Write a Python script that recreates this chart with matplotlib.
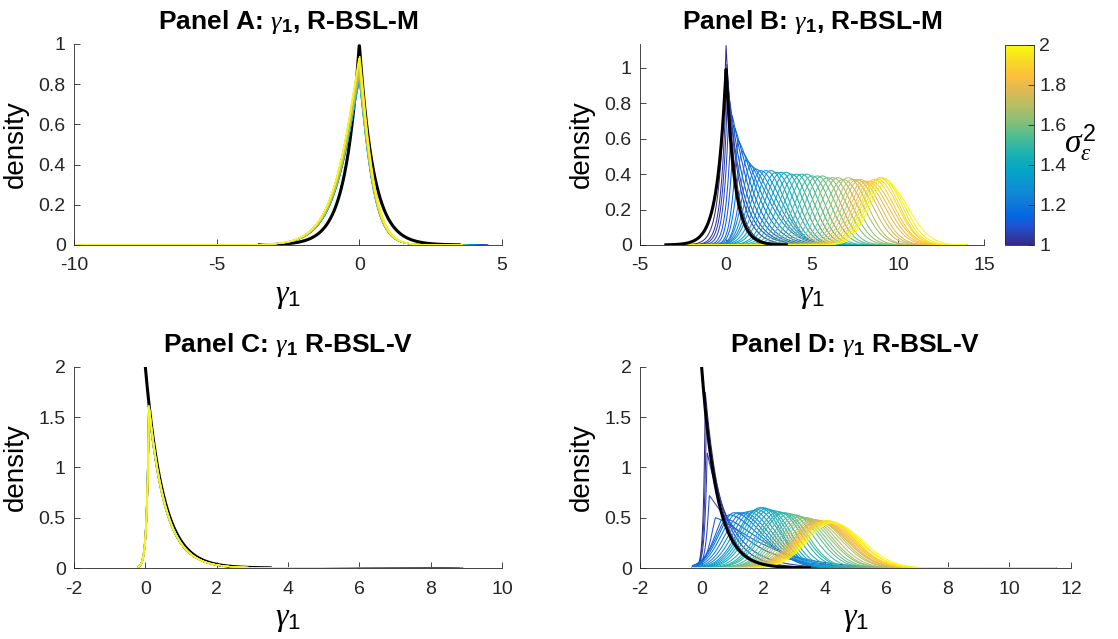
import numpy as np
import matplotlib
matplotlib.use('Agg')
import matplotlib.pyplot as plt
from matplotlib.colors import LinearSegmentedColormap, Normalize
from matplotlib.cm import ScalarMappable
from matplotlib.ticker import FuncFormatter
from math import gamma as gamma_fn

plt.rcParams['font.family'] = 'Liberation Sans'
plt.rcParams['mathtext.fontset'] = 'custom'
plt.rcParams['mathtext.rm'] = 'Liberation Sans'
plt.rcParams['mathtext.it'] = 'Liberation Serif:italic'
plt.rcParams['mathtext.bf'] = 'Liberation Sans:bold'

# noise variance of each run (colour scale)
sigma2 = np.round(np.arange(1.0, 2.0001, 0.025), 3)

# prior densities (black): Laplace for R-BSL-M, exponential for R-BSL-V
prior_scale_m = 0.5
prior_rate_v = 2.0
prior_cut = 3.5

# Panel A: posterior peak location / height per run (shape shared)
a_peak = [0.0, -0.01, 0.0, 0.01, -0.02, 0.0, 0.01, -0.01, 0.0, 0.02, -0.01,
          0.0, 0.01, -0.02, 0.0, 0.01, -0.01, 0.0, 0.02, 0.0, -0.01, 0.01,
          0.0, -0.02, 0.01, 0.0, -0.01, 0.02, 0.0, 0.01, -0.01, 0.0, 0.01,
          -0.02, 0.0, 0.01, -0.01, 0.0, 0.02, 0.0, -0.01]
a_height = [0.90, 0.91, 0.89, 0.88, 0.90, 0.87, 0.86, 0.88, 0.85, 0.84, 0.86,
            0.83, 0.82, 0.84, 0.81, 0.83, 0.85, 0.82, 0.84, 0.86, 0.83, 0.85,
            0.87, 0.84, 0.86, 0.88, 0.85, 0.87, 0.89, 0.86, 0.88, 0.90, 0.92,
            0.89, 0.91, 0.93, 0.90, 0.92, 0.94, 0.91, 0.93]
a_end = [4.5, 4.5, 4.4, 4.4, 4.3, 4.3, 4.2, 4.2, 4.1, 4.1, 4.0, 4.0, 4.0, 3.9,
         3.9, 3.9, 3.8, 3.8, 3.8, 3.8, 3.7, 3.7, 3.7, 3.7, 3.7, 3.6, 3.6, 3.6,
         3.6, 3.6, 3.6, 3.6, 3.6, 3.6, 3.6, 3.6, 3.6, 3.6, 3.6, 3.6, 3.6]
a_shape = dict(sl=0.67, sr=0.40, p=1.2)

# Panel B
b_peak = [0.0, 0.05, 0.1, 0.2, 0.35, 0.5, 0.7, 0.9, 1.15, 1.4, 1.7, 2.0, 2.3,
          2.6, 2.9, 3.2, 3.5, 3.8, 4.1, 4.4, 4.7, 5.0, 5.3, 5.6, 5.9, 6.2,
          6.5, 6.8, 7.1, 7.35, 7.6, 7.8, 8.0, 8.2, 8.4, 8.6, 8.8, 8.95, 9.1,
          9.2, 9.3]
b_height = [1.13, 1.02, 0.92, 0.82, 0.73, 0.66, 0.59, 0.53, 0.48, 0.45, 0.43,
            0.42, 0.42, 0.42, 0.41, 0.41, 0.41, 0.40, 0.40, 0.40, 0.40, 0.39,
            0.39, 0.39, 0.38, 0.38, 0.38, 0.37, 0.38, 0.37, 0.37, 0.37, 0.36,
            0.36, 0.36, 0.37, 0.37, 0.38, 0.38, 0.37, 0.35]
b_left = [0.35, 0.30, 0.28, 0.27, 0.27, 0.28, 0.30, 0.35, 0.40, 0.50, 0.60,
          0.70, 0.80, 0.85, 0.90, 0.95, 0.95, 1.0, 1.0, 1.0, 1.0, 1.0, 1.0,
          1.0, 1.0, 1.0, 1.0, 1.0, 1.0, 1.0, 1.0, 1.0, 1.0, 1.0, 1.0, 1.0,
          1.0, 1.0, 1.0, 1.0, 1.0]
b_power = [1.0, 1.0, 1.0, 1.1, 1.2, 1.3, 1.4, 1.5, 1.6, 1.7, 1.8, 1.9] + [2.0] * 29

# Panel C
c_peak = [0.10, 0.11, 0.10, 0.09, 0.10, 0.11, 0.10, 0.09, 0.10, 0.11, 0.10,
          0.10, 0.09, 0.11, 0.10, 0.10, 0.11, 0.09, 0.10, 0.10, 0.11, 0.10,
          0.09, 0.10, 0.11, 0.10, 0.10, 0.09, 0.11, 0.10, 0.10, 0.11, 0.09,
          0.10, 0.10, 0.11, 0.10, 0.09, 0.10, 0.11, 0.10]
c_height = [1.60, 1.58, 1.61, 1.59, 1.60, 1.62, 1.58, 1.60, 1.59, 1.61, 1.60,
            1.58, 1.60, 1.61, 1.59, 1.60, 1.62, 1.58, 1.60, 1.59, 1.61, 1.60,
            1.58, 1.60, 1.61, 1.59, 1.60, 1.62, 1.58, 1.60, 1.59, 1.61, 1.60,
            1.58, 1.60, 1.61, 1.59, 1.60, 1.62, 1.60, 1.61]
c_end = [8.9, 8.8, 8.6, 8.4, 8.2, 8.0, 7.8, 7.6, 7.4, 7.2, 7.0, 6.9, 6.8, 6.7,
         6.6, 6.5, 6.4, 6.3, 6.2, 6.1, 6.0, 6.0, 5.9, 5.9, 5.8, 5.8, 5.7, 5.7,
         5.6, 5.6, 5.5, 5.5, 5.4, 5.4, 5.3, 5.3, 5.2, 5.2, 5.1, 5.1, 5.0]
c_shape = dict(sl=0.06, sr=0.48, p=1.0)

# Panel D
d_peak = [0.12, 0.15, 0.18, 0.25, 0.45, 0.7, 0.9, 1.05, 1.2, 1.35, 1.5, 1.65,
          1.8, 1.9, 2.0, 2.1, 2.2, 2.35, 2.5, 2.6, 2.7, 2.85, 3.0, 3.1, 3.2,
          3.3, 3.4, 3.5, 3.6, 3.7, 3.75, 3.8, 3.85, 3.9, 3.95, 4.0, 4.05,
          4.1, 4.15, 4.2, 4.25]
d_height = [1.75, 1.45, 1.15, 0.72, 0.50, 0.50, 0.53, 0.55, 0.55, 0.55, 0.56,
            0.57, 0.58, 0.60, 0.60, 0.59, 0.58, 0.57, 0.56, 0.55, 0.55, 0.54,
            0.53, 0.52, 0.51, 0.50, 0.50, 0.49, 0.48, 0.48, 0.47, 0.47, 0.47,
            0.46, 0.46, 0.46, 0.47, 0.47, 0.46, 0.46, 0.45]
d_left = [0.06, 0.07, 0.08, 0.10, 0.20, 0.35, 0.45, 0.50, 0.55, 0.58, 0.60,
          0.62, 0.64, 0.65, 0.66, 0.67, 0.68, 0.69, 0.70, 0.71, 0.72, 0.72,
          0.73, 0.74, 0.75, 0.75, 0.76, 0.77, 0.77, 0.78, 0.78, 0.79, 0.79,
          0.80, 0.80, 0.80, 0.80, 0.80, 0.80, 0.80, 0.80]
d_power = [1.0, 1.0, 1.0, 1.1, 1.3, 1.5, 1.7, 1.9] + [2.0] * 33

# parula colour map
parula = LinearSegmentedColormap.from_list('parula', [
    (0 / 63, (0.2081, 0.1663, 0.5292)),
    (6 / 63, (0.1253, 0.3242, 0.8303)),
    (9 / 63, (0.0060, 0.4086, 0.8828)),
    (14 / 63, (0.0723, 0.4887, 0.8467)),
    (19 / 63, (0.0488, 0.5772, 0.8228)),
    (24 / 63, (0.0228, 0.6535, 0.7768)),
    (29 / 63, (0.1133, 0.7015, 0.6859)),
    (34 / 63, (0.3022, 0.7376, 0.5712)),
    (39 / 63, (0.5300, 0.7491, 0.4661)),
    (44 / 63, (0.7184, 0.7411, 0.3905)),
    (49 / 63, (0.8824, 0.7274, 0.3217)),
    (53 / 63, (0.9938, 0.7455, 0.2403)),
    (58 / 63, (0.9697, 0.8481, 0.1475)),
    (63 / 63, (0.9763, 0.9831, 0.0538)),
])
norm = Normalize(1, 2)


def norm_const(p):
    return p ** (1 / p) * gamma_fn(1 + 1 / p)


def density(x, m, h, sl, sr, p):
    s = np.where(x < m, sl, sr)
    z = np.abs(x - m) / s
    return h * np.exp(-z ** p / p)


fmt = FuncFormatter(lambda v, _: f'{v:g}')
axis_col = '#262626'


def style(ax, xlim, xticks, ylim, yticks, title):
    ax.set_xlim(xlim)
    ax.set_ylim(ylim)
    ax.set_xticks(xticks)
    ax.set_yticks(yticks)
    ax.xaxis.set_major_formatter(fmt)
    ax.yaxis.set_major_formatter(fmt)
    for side in ['top', 'right']:
        ax.spines[side].set_visible(False)
    for side in ['left', 'bottom']:
        ax.spines[side].set_color(axis_col)
        ax.spines[side].set_linewidth(0.6)
    ax.tick_params(direction='in', length=4, width=0.6, colors=axis_col,
                   labelsize=14)
    ax.tick_params(axis='x', pad=9)
    ax.tick_params(axis='y', pad=6)
    ax.set_title(title, fontsize=19, fontweight='bold', pad=11)
    ax.set_xlabel(r'$\gamma_1$', fontsize=23, labelpad=5)
    ax.set_ylabel('density', fontsize=20, labelpad=7)


fig = plt.figure(figsize=(11.18, 6.39), dpi=100)
axA = fig.add_axes([0.0662, 0.6166, 0.3828, 0.3146])
axB = fig.add_axes([0.5725, 0.6166, 0.3077, 0.3146])
cax = fig.add_axes([0.8989, 0.6166, 0.0259, 0.3130])
axC = fig.add_axes([0.0662, 0.1111, 0.3828, 0.3146])
axD = fig.add_axes([0.5725, 0.1111, 0.3855, 0.3146])

lw_run = 0.75
lw_prior = 2.2

# Panel A
for s2, m, h, end in zip(sigma2, a_peak, a_height, a_end):
    xa = np.linspace(-10, end, 1500)
    axA.plot(xa, density(xa, m, h, **a_shape), color=parula(norm(s2)), lw=lw_run)
xp = np.linspace(-prior_cut, prior_cut, 800)
axA.plot(xp, np.exp(-np.abs(xp) / prior_scale_m) / (2 * prior_scale_m),
         color='k', lw=lw_prior, zorder=1)

# Panel B
xb = np.linspace(-3.5, 14, 1800)
for s2, m, h, sl, p in zip(sigma2, b_peak, b_height, b_left, b_power):
    sr = 1 / (h * norm_const(p)) - sl
    axB.plot(xb, density(xb, m, h, sl, sr, p), color=parula(norm(s2)), lw=lw_run)
axB.plot(xp, np.exp(-np.abs(xp) / prior_scale_m) / (2 * prior_scale_m),
         color='k', lw=lw_prior, zorder=5)

# Panel C
xv = np.linspace(0, prior_cut, 800)
axC.plot(xv, prior_rate_v * np.exp(-prior_rate_v * xv), color='k', lw=lw_prior,
         zorder=1)
for s2, m, h, end in zip(sigma2, c_peak, c_height, c_end):
    xc = np.linspace(-0.2, end, 1500)
    axC.plot(xc, density(xc, m, h, **c_shape), color=parula(norm(s2)), lw=lw_run)

# Panel D
xd = np.linspace(-0.3, 11.5, 1800)
for s2, m, h, sl, p in zip(sigma2, d_peak, d_height, d_left, d_power):
    sr = 1 / (h * norm_const(p)) - sl
    axD.plot(xd, density(xd, m, h, sl, sr, p), color=parula(norm(s2)), lw=lw_run)
axD.plot(xv, prior_rate_v * np.exp(-prior_rate_v * xv), color='k', lw=lw_prior,
         zorder=5)

style(axA, (-10, 5), [-10, -5, 0, 5], (0, 1), np.arange(0, 1.01, 0.2),
      r'Panel A: $\gamma_\mathbf{1}$, R-BSL-M')
style(axB, (-5, 15), [-5, 0, 5, 10, 15], (0, 1.135), np.arange(0, 1.01, 0.2),
      r'Panel B: $\gamma_\mathbf{1}$, R-BSL-M')
style(axC, (-2, 10), np.arange(-2, 10.1, 2), (0, 2), np.arange(0, 2.01, 0.5),
      r'Panel C: $\gamma_\mathbf{1}$ R-BSL-V')
style(axD, (-2, 12), np.arange(-2, 12.1, 2), (0, 2), np.arange(0, 2.01, 0.5),
      r'Panel D: $\gamma_\mathbf{1}$ R-BSL-V')

cb = fig.colorbar(ScalarMappable(norm=norm, cmap=parula), cax=cax,
                  ticks=[1, 1.2, 1.4, 1.6, 1.8, 2])
cb.ax.yaxis.set_major_formatter(fmt)
cb.ax.tick_params(direction='in', length=4, width=0.6, colors=axis_col,
                  labelsize=14, pad=4)
cb.outline.set_edgecolor(axis_col)
cb.outline.set_linewidth(0.6)
fig.text(0.952, 0.775, r'$\sigma_\epsilon^2$', fontsize=24, va='center')

fig.savefig('out.png', dpi=100)
